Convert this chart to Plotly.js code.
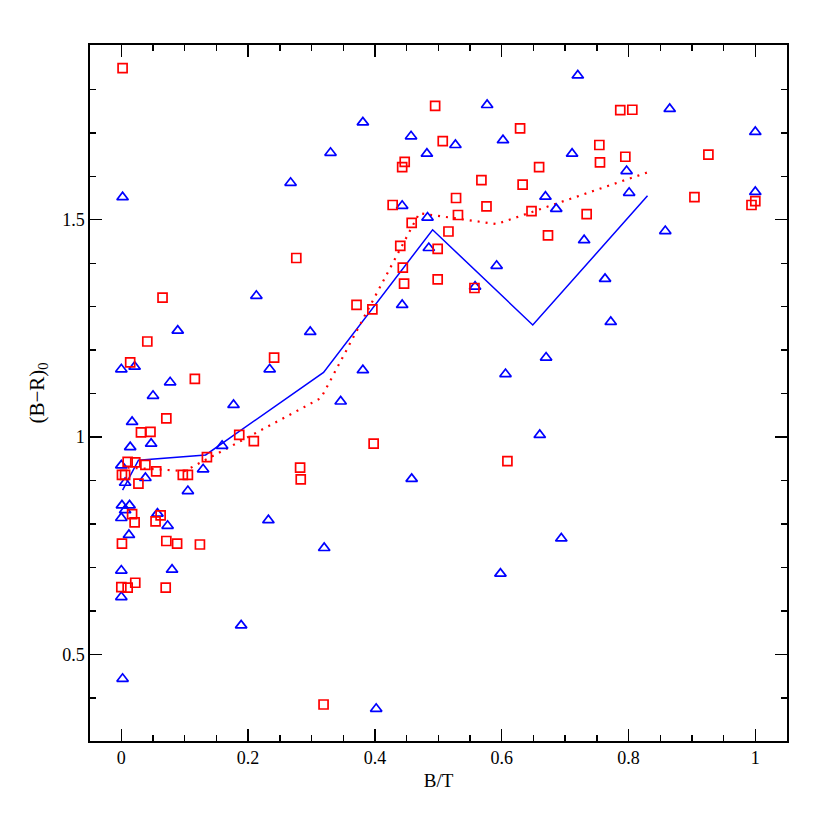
<!DOCTYPE html>
<html>
<head>
<meta charset="utf-8">
<script src="https://cdn.plot.ly/plotly-3.0.1.min.js"></script>
<style>html,body{margin:0;padding:0;background:#fff;}</style>
</head>
<body>
<div id="chart" style="width:830px;height:830px;"></div>
<script>
// Blue triangles
const triX = [0.002,0.267,0.330,0.381,0.577,0.457,0.527,0.602,0.482,0.669,0.443,0.686,0.483,0.485,0.592,0.558,0.443,0.381,0.346,0.670,0.606,0.660,0.458,0.320,0.598,0.694,0.402,0.720,0.865,1.000,0.711,0.797,0.801,1.000,0.730,0.858,0.763,0.772,0.213,0.089,0.298,0.000,0.021,0.234,0.077,0.050,0.177,0.017,0.014,0.047,0.159,0.000,0.129,0.038,0.006,0.105,0.001,0.013,0.006,0.000,0.057,0.073,0.232,0.012,0.000,0.080,0.000,0.189,0.002];
const triY = [1.552,1.585,1.654,1.724,1.764,1.692,1.672,1.683,1.652,1.553,1.532,1.525,1.505,1.435,1.394,1.346,1.304,1.154,1.082,1.183,1.145,1.005,0.904,0.745,0.686,0.767,0.375,1.832,1.755,1.702,1.652,1.612,1.562,1.564,1.453,1.474,1.364,1.265,1.325,1.245,1.242,1.156,1.162,1.156,1.126,1.095,1.074,1.035,0.977,0.985,0.980,0.935,0.926,0.906,0.895,0.876,0.843,0.843,0.832,0.814,0.824,0.796,0.809,0.775,0.693,0.695,0.632,0.567,0.444];

// Red squares
const sqX = [0.002,0.276,0.495,0.629,0.507,0.447,0.443,0.659,0.568,0.633,0.528,0.428,0.576,0.647,0.531,0.458,0.516,0.673,0.440,0.499,0.444,0.446,0.499,0.557,0.371,0.396,0.398,0.609,0.319,0.787,0.806,0.754,0.795,0.755,0.926,0.904,1.000,0.994,0.734,0.065,0.041,0.014,0.241,0.116,0.071,0.031,0.046,0.186,0.209,0.135,0.010,0.022,0.038,0.055,0.001,0.006,0.097,0.105,0.027,0.282,0.283,0.017,0.062,0.021,0.054,0.001,0.071,0.088,0.124,0.000,0.010,0.022,0.070];
const sqY = [1.849,1.412,1.762,1.710,1.681,1.633,1.621,1.621,1.591,1.581,1.550,1.534,1.531,1.520,1.511,1.493,1.473,1.464,1.440,1.433,1.390,1.353,1.363,1.343,1.304,1.294,0.985,0.945,0.385,1.752,1.753,1.672,1.645,1.632,1.650,1.552,1.543,1.534,1.513,1.321,1.220,1.172,1.183,1.134,1.043,1.011,1.012,1.005,0.991,0.954,0.943,0.942,0.936,0.921,0.913,0.913,0.913,0.913,0.893,0.930,0.903,0.823,0.820,0.804,0.806,0.755,0.761,0.755,0.753,0.655,0.654,0.665,0.654];

// Binned mean lines
const blueLineX = [0.002,0.027,0.133,0.319,0.491,0.649,0.830];
const blueLineY = [0.878,0.947,0.959,1.149,1.477,1.258,1.555];
const redLineX = [0.010,0.100,0.315,0.470,0.592,0.830];
const redLineY = [0.930,0.922,1.090,1.515,1.490,1.609];

const traces = [
  {x: blueLineX, y: blueLineY, mode: 'lines', type: 'scatter',
   line: {color: '#0000ff', width: 1.5}, hoverinfo: 'skip'},
  {x: redLineX, y: redLineY, mode: 'lines', type: 'scatter',
   line: {color: '#ff0000', width: 2.2, dash: '2px,6px'}, hoverinfo: 'skip'},
  {x: triX, y: triY, mode: 'markers', type: 'scatter',
   marker: {symbol: 'triangle-up-open', size: 10, color: '#0000ff', line: {width: 1.7, color: '#0000ff'}}},
  {x: sqX, y: sqY, mode: 'markers', type: 'scatter',
   marker: {symbol: 'square-open', size: 9, color: '#ff0000', line: {width: 1.7, color: '#ff0000'}}}
];

const axisCommon = {
  showgrid: false, zeroline: false, showline: true, linecolor: '#000', linewidth: 1.6,
  mirror: 'allticks', ticks: 'inside', ticklen: 12, tickwidth: 1.4, tickcolor: '#000',
  tickfont: {family: 'Liberation Serif', size: 18, color: '#000'}
};

const layout = {
  width: 830, height: 830,
  margin: {l: 90, r: 43, t: 45, b: 89},
  paper_bgcolor: '#fff', plot_bgcolor: '#fff',
  showlegend: false,
  xaxis: Object.assign({}, axisCommon, {
    range: [-0.0494, 1.050], tickvals: [0, 0.2, 0.4, 0.6, 0.8, 1], ticktext: ['0','0.2','0.4','0.6','0.8','1'],
    minor: {dtick: 0.05, tick0: 0, ticks: 'inside', ticklen: 6, tickwidth: 1.4, tickcolor: '#000'},
    title: {text: 'B/T', font: {family: 'Liberation Serif', size: 19, color: '#000'}, standoff: 6}
  }),
  yaxis: Object.assign({}, axisCommon, {
    range: [0.301, 1.902], tickvals: [0.5, 1, 1.5], ticktext: ['0.5','1','1.5'],
    minor: {dtick: 0.1, tick0: 0, ticks: 'inside', ticklen: 6, tickwidth: 1.4, tickcolor: '#000'},
    title: {text: '(B\u2212R)<sub>0</sub>', font: {family: 'Liberation Serif', size: 21, color: '#000'}, standoff: 12}
  })
};

Plotly.newPlot('chart', traces, layout, {displayModeBar: false, staticPlot: true});
</script>
</body>
</html>
